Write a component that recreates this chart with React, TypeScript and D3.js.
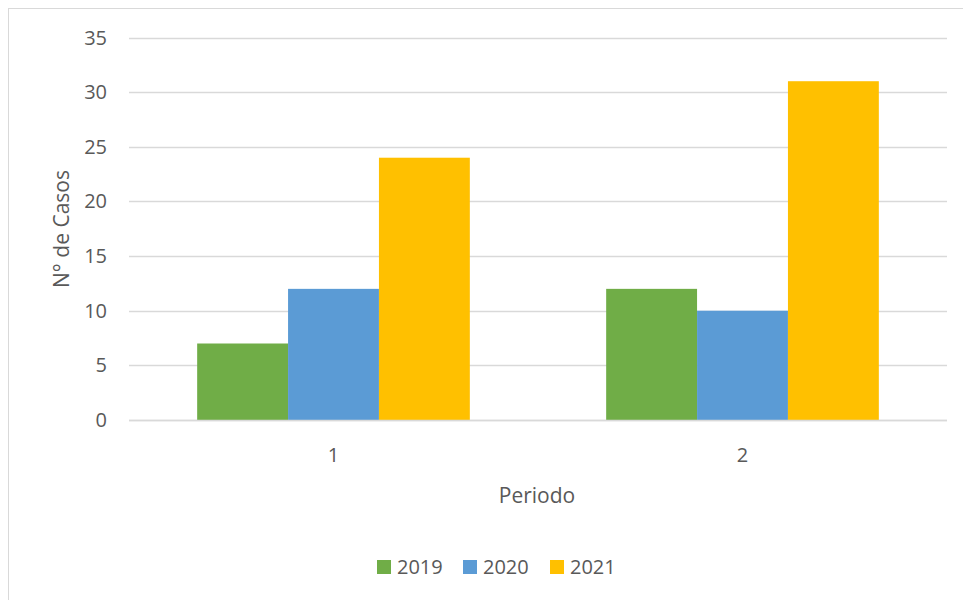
import React from "react";
import * as d3 from "d3";

const categories = ["1", "2"];
const seriesNames = ["2019", "2020", "2021"];
const values2019 = [7, 12];
const values2020 = [12, 10];
const values2021 = [24, 31];
const yTicks = [0, 5, 10, 15, 20, 25, 30, 35];
const colors = ["#70ad47", "#5b9bd5", "#ffc000"];

export default function App() {
  const W = 963, H = 600;
  const left = 129, right = 947, top = 37.5, bottom = 420;
  const x0 = d3.scaleBand().domain(categories).range([left, right]).paddingInner(1 / 3).paddingOuter(1 / 6);
  const x1 = d3.scaleBand().domain(seriesNames).range([0, x0.bandwidth()]);
  const y = d3.scaleLinear().domain([0, 35]).range([bottom, top]);
  const data = [values2019, values2020, values2021];
  const font = "Open Sans, Noto Sans, sans-serif";
  const textColor = "#595959";
  const legendX = [377, 463, 550];
  return (
    <svg width={W} height={H} style={{ position: "absolute", left: 0, top: 0 }} fontFamily={font}>
      <rect x={0} y={0} width={W} height={H} fill="#fff" />
      <rect x={8.5} y={8.5} width={W + 20} height={H + 20} fill="#fff" stroke="#d9d9d9" strokeWidth={1} />
      {yTicks.map((t) => (
        <g key={t}>
          <line x1={left} x2={right} y1={Math.round(y(t)) + 0.5} y2={Math.round(y(t)) + 0.5} stroke="#d9d9d9" strokeWidth={1.5} />
          <text x={107} y={y(t)} dy="0.35em" textAnchor="end" fontSize={20} fill={textColor}>{t}</text>
        </g>
      ))}
      {categories.map((c, ci) => (
        <g key={c}>
          {seriesNames.map((s, si) => (
            <rect key={s} x={(x0(c) as number) + (x1(s) as number)} y={y(data[si][ci])} width={x1.bandwidth()} height={bottom - y(data[si][ci])} fill={colors[si]} />
          ))}
          <text x={(x0(c) as number) + x0.bandwidth() / 2} y={455} dy="0.35em" textAnchor="middle" fontSize={20} fill={textColor}>{c}</text>
        </g>
      ))}
      <line x1={left} x2={right} y1={bottom + 0.5} y2={bottom + 0.5} stroke="#d9d9d9" strokeWidth={1.5} />
      <text transform="translate(62,229) rotate(-90)" textAnchor="middle" dy="0.35em" fontSize={21} fill={textColor}>N° de Casos</text>
      <text x={537} y={496} dy="0.35em" textAnchor="middle" fontSize={21} fill={textColor}>Periodo</text>
      {seriesNames.map((s, i) => (
        <g key={s}>
          <rect x={legendX[i]} y={560} width={14} height={14} fill={colors[i]} />
          <text x={legendX[i] + 20} y={567} dy="0.35em" fontSize={20} fill={textColor}>{s}</text>
        </g>
      ))}
    </svg>
  );
}
